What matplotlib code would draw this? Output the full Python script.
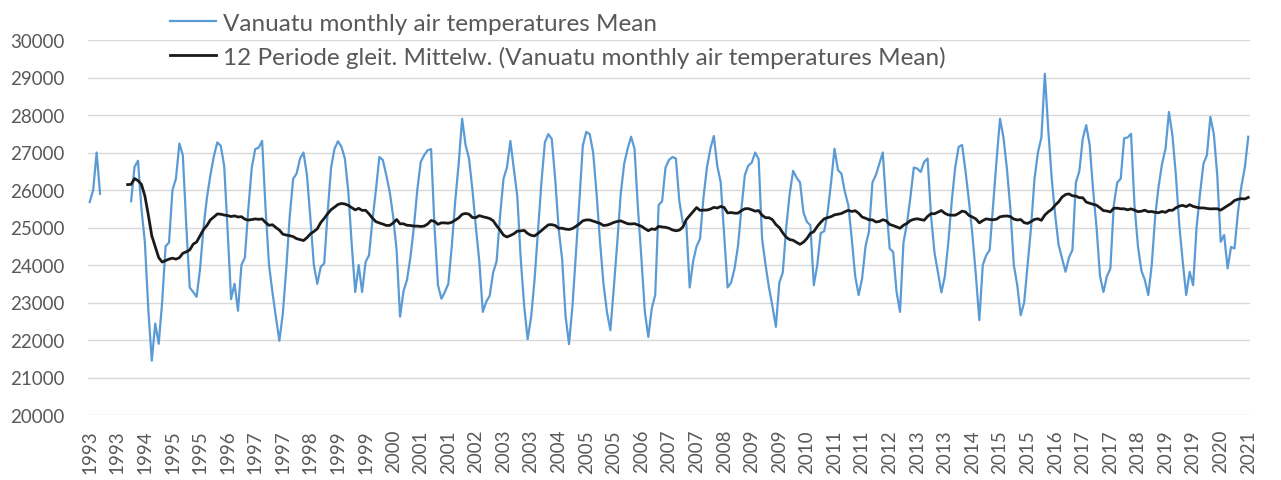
import numpy as np
import pandas as pd
import matplotlib
matplotlib.use("Agg")
import matplotlib.pyplot as plt

nan = np.nan

# Monthly mean air temperature values (Vanuatu), Jan 1993 .. Jan 2021, one row per year
temps_1993 = [25680, 26000, 27000, 25900, nan, nan, nan, nan, nan, nan, nan, nan]
temps_1994 = [25700, 26620, 26780, 25500, 24600, 22800, 21450, 22440, 21900, 23000, 24500, 24600]
temps_1995 = [26000, 26300, 27240, 26930, 25060, 23400, 23280, 23150, 23900, 25000, 25800, 26400]
temps_1996 = [26900, 27270, 27180, 26640, 24900, 23090, 23500, 22780, 24000, 24200, 25500, 26600]
temps_1997 = [27090, 27130, 27310, 25500, 24000, 23270, 22600, 21980, 22700, 23900, 25300, 26300]
temps_1998 = [26440, 26840, 27000, 26400, 25240, 24000, 23500, 23950, 24040, 25400, 26600, 27100]
temps_1999 = [27300, 27150, 26840, 25950, 24530, 23280, 24000, 23280, 24080, 24260, 25200, 26000]
temps_2000 = [26880, 26800, 26400, 25950, 25300, 24400, 22620, 23300, 23600, 24200, 25000, 26000]
temps_2001 = [26750, 26930, 27060, 27090, 25000, 23460, 23100, 23280, 23500, 24500, 25700, 26700]
temps_2002 = [27900, 27200, 26840, 26000, 25000, 24080, 22750, 23020, 23180, 23800, 24100, 25300]
temps_2003 = [26300, 26600, 27310, 26560, 25840, 24160, 22910, 22020, 22600, 23600, 24900, 26200]
temps_2004 = [27270, 27490, 27360, 26290, 24960, 24160, 22640, 21890, 22900, 24300, 25700, 27180]
temps_2005 = [27550, 27490, 27000, 25900, 24600, 23500, 22750, 22260, 23400, 24600, 25900, 26700]
temps_2006 = [27100, 27420, 27100, 25500, 24170, 22750, 22080, 22840, 23200, 25600, 25700, 26600]
temps_2007 = [26800, 26880, 26840, 25700, 25130, 25130, 23400, 24100, 24500, 24700, 25800, 26600]
temps_2008 = [27100, 27440, 26640, 26200, 24780, 23400, 23530, 23900, 24500, 25500, 26400, 26650]
temps_2009 = [26730, 27000, 26820, 24700, 24000, 23400, 22900, 22350, 23530, 23800, 25000, 25900]
temps_2010 = [26510, 26330, 26200, 25400, 25150, 25060, 23460, 24000, 24850, 24900, 25400, 26200]
temps_2011 = [27100, 26530, 26440, 25950, 25600, 24700, 23700, 23200, 23640, 24500, 24900, 26200]
temps_2012 = [26400, 26700, 27000, 25600, 24440, 24350, 23280, 22750, 24600, 25100, 25800, 26600]
temps_2013 = [26570, 26480, 26750, 26840, 25300, 24330, 23800, 23270, 23700, 24600, 25700, 26600]
temps_2014 = [27150, 27200, 26500, 25700, 24800, 23730, 22530, 24000, 24260, 24400, 25600, 26800]
temps_2015 = [27900, 27400, 26570, 25500, 24000, 23460, 22660, 23000, 24000, 25000, 26300, 27000]
temps_2016 = [27400, 29100, 27600, 26300, 25330, 24530, 24170, 23820, 24200, 24400, 26200, 26500]
temps_2017 = [27370, 27730, 27200, 26000, 25000, 23700, 23280, 23700, 23900, 25600, 26200, 26300]
temps_2018 = [27380, 27400, 27500, 25600, 24500, 23850, 23600, 23200, 24000, 25300, 26100, 26700]
temps_2019 = [27100, 28080, 27460, 26400, 25060, 24080, 23200, 23820, 23460, 25000, 25900, 26700]
temps_2020 = [26930, 27950, 27500, 26400, 24620, 24800, 23910, 24480, 24440, 25400, 26100, 26600]
temps_2021 = [27420]

temps = (temps_1993 + temps_1994 + temps_1995 + temps_1996 + temps_1997 + temps_1998
         + temps_1999 + temps_2000 + temps_2001 + temps_2002 + temps_2003 + temps_2004
         + temps_2005 + temps_2006 + temps_2007 + temps_2008 + temps_2009 + temps_2010
         + temps_2011 + temps_2012 + temps_2013 + temps_2014 + temps_2015 + temps_2016
         + temps_2017 + temps_2018 + temps_2019 + temps_2020 + temps_2021)

months = pd.date_range("1993-01-01", periods=len(temps), freq="MS")
label_step = 8

series = pd.Series(temps, index=months, dtype=float)
# 12 period moving average, like the Excel trendline (blank cells skipped)
moving_avg = series.rolling(12, min_periods=1).mean()
moving_avg.iloc[:11] = np.nan

label1 = "Vanuatu monthly air temperatures Mean"
label2 = "12 Periode gleit. Mittelw. (Vanuatu monthly air temperatures Mean)"

plt.rcParams["font.family"] = ["Lato", "DejaVu Sans"]
text_color = "#595959"

fig = plt.figure(figsize=(12.81, 4.81), dpi=100)
ax = fig.add_axes([88 / 1281, 1 - 416 / 481, (1250 - 88) / 1281, (416 - 41) / 481])

x = np.arange(len(series))
ax.plot(x, series.values, color="#5b9bd5", linewidth=1.6, label=label1)
ax.plot(x, moving_avg.values, color="#1a1a1a", linewidth=2.0, label=label2)

ax.set_ylim(20000, 30000)
ax.set_yticks(np.arange(20000, 30001, 1000))
ax.set_xlim(-0.5, len(series) - 0.5)
ticks = x[::label_step]
ax.set_xticks(ticks)
ax.set_xticklabels([str(months[i].year) for i in ticks], rotation=90)

ax.grid(axis="y", color="#d9d9d9", linewidth=1.0)
ax.set_axisbelow(True)
for s in ax.spines.values():
    s.set_visible(False)
ax.tick_params(axis="both", length=0, colors=text_color, labelsize=13.5)
ax.tick_params(axis="y", pad=17)
ax.tick_params(axis="x", pad=10)

fig.legend(loc="upper left", bbox_to_anchor=(160 / 1281, 1 - 4 / 481), frameon=False,
           fontsize=17.5, labelcolor=text_color, handlelength=1.9, handletextpad=0.3,
           labelspacing=0.5, borderaxespad=0)

fig.savefig("out.png", dpi=100)
